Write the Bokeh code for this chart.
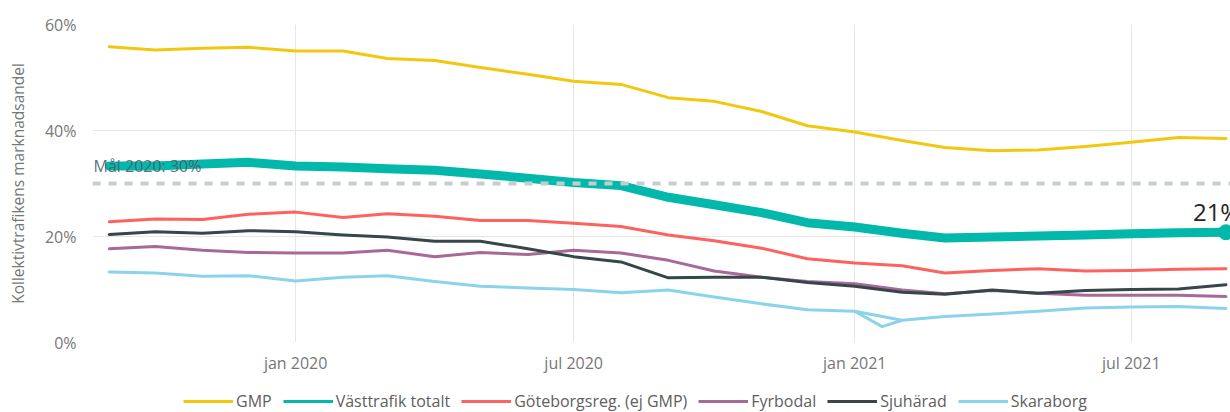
import numpy as np
from bokeh.plotting import figure
from bokeh.layouts import column
from bokeh.models import (FixedTicker, Span, Legend, LegendItem, Range1d,
                          PrintfTickFormatter)
from bokeh.embed import file_html
from bokeh.resources import INLINE
from bokeh.core.properties import value

# ---------------- data ----------------
months = ["2019-09", "2019-10", "2019-11", "2019-12",
          "2020-01", "2020-02", "2020-03", "2020-04", "2020-05", "2020-06",
          "2020-07", "2020-08", "2020-09", "2020-10", "2020-11", "2020-12",
          "2021-01", "2021-02", "2021-03", "2021-04", "2021-05", "2021-06",
          "2021-07", "2021-08", "2021-09"]

gmp = [55.8, 55.2, 55.5, 55.7, 55.0, 55.0, 53.6, 53.2, 51.9, 50.6, 49.3, 48.7,
       46.2, 45.5, 43.6, 40.9, 39.7, 38.1, 36.8, 36.2, 36.3, 37.0, 37.8, 38.7, 38.5]
vasttrafik = [33.3, 33.3, 33.7, 34.0, 33.3, 33.1, 32.8, 32.5, 31.8, 31.0, 30.2, 29.6,
              27.4, 26.0, 24.5, 22.6, 21.8, 20.6, 19.7, 19.9, 20.1, 20.3, 20.5, 20.7, 20.8]
goteborgsreg = [22.8, 23.3, 23.2, 24.2, 24.6, 23.6, 24.3, 23.8, 23.0, 23.0, 22.5, 21.9,
                20.3, 19.2, 17.8, 15.8, 15.0, 14.5, 13.1, 13.6, 13.9, 13.5, 13.6, 13.8, 13.9]
fyrbodal = [17.7, 18.1, 17.4, 17.0, 16.9, 16.9, 17.4, 16.2, 17.0, 16.6, 17.4, 16.9,
            15.5, 13.5, 12.3, 11.5, 11.1, 9.9, 9.2, 9.8, 9.3, 8.9, 8.9, 8.9, 8.7]
sjuharad = [20.4, 20.9, 20.6, 21.1, 20.9, 20.3, 19.9, 19.1, 19.1, 17.7, 16.2, 15.2,
            12.2, 12.3, 12.3, 11.3, 10.6, 9.5, 9.1, 9.9, 9.3, 9.8, 10.0, 10.1, 10.9]
skaraborg = [13.3, 13.1, 12.5, 12.6, 11.6, 12.3, 12.6, 11.5, 10.6, 10.3, 10.0, 9.4,
             9.9, 8.6, 7.3, 6.2, 5.9, 4.2, 4.9, 5.4, 5.9, 6.5, 6.7, 6.8, 6.4]
skaraborg_extra_dates = ["2021-01-01", "2021-01-19", "2021-02-01"]
skaraborg_extra = [5.9, 3.0, 4.2]

series_names = ["GMP", "Västtrafik totalt", "Göteborgsreg. (ej GMP)",
                "Fyrbodal", "Sjuhärad", "Skaraborg"]
series_colors = ["#F2C80F", "#01B8AA", "#FD625E", "#A66999", "#374649", "#8AD4EB"]

tick_dates = ["2020-01-01", "2020-07-01", "2021-01-01", "2021-07-01"]
tick_labels = ["jan 2020", "jul 2020", "jan 2021", "jul 2021"]
y_ticks = [0, 20, 40, 60]
goal = 30
goal_label = "Mål 2020: 30%"
y_title = "Kollektivtrafikens marknadsandel"
x_start_date = "2019-08-21"
x_end_date = "2021-09-04"


def ms(d):
    return int(np.datetime64(d, "ms").astype(np.int64))


xs = [ms(m + "-01") for m in months]
xticks = [ms(d) for d in tick_dates]
FONT = "Open Sans"

p = figure(width=1230, height=378, output_backend="svg", toolbar_location=None,
           x_range=Range1d(ms(x_start_date), ms(x_end_date)),
           y_range=Range1d(0, 60),
           min_border_left=92, min_border_right=0, min_border_top=24,
           min_border_bottom=36)
p.outline_line_color = None
p.background_fill_color = "white"
p.border_fill_color = "white"

# axes
p.xaxis.ticker = FixedTicker(ticks=xticks)
p.xaxis.major_label_overrides = {t: l for t, l in zip(xticks, tick_labels)}
p.yaxis.ticker = FixedTicker(ticks=y_ticks)
p.yaxis.formatter = PrintfTickFormatter(format="%d%%")
for ax in (p.xaxis[0], p.yaxis[0]):
    ax.axis_line_color = None
    ax.major_tick_line_color = None
    ax.minor_tick_line_color = None
    ax.major_tick_out = 0
    ax.major_tick_in = 0
    ax.major_label_text_font = FONT
    ax.major_label_text_font_size = "16px"
    ax.major_label_text_color = "#777777"
p.xaxis.major_label_standoff = 9
p.yaxis.major_label_standoff = 16
p.yaxis.axis_label = y_title
p.yaxis.axis_label_text_font = FONT
p.yaxis.axis_label_text_font_size = "15.5px"
p.yaxis.axis_label_text_font_style = "normal"
p.yaxis.axis_label_text_color = "#777777"
p.yaxis.axis_label_standoff = 13

p.xgrid.ticker = FixedTicker(ticks=xticks)
p.ygrid.ticker = FixedTicker(ticks=y_ticks)
p.xgrid.grid_line_color = "#E6E6E6"
p.ygrid.grid_line_color = "#E6E6E6"

# lines
all_series = [gmp, vasttrafik, goteborgsreg, fyrbodal, sjuharad, skaraborg]
widths = [3, 9, 3, 3, 3, 3]
for vals, col, w in zip(all_series, series_colors, widths):
    p.line(xs, vals, line_color=col, line_width=w, line_join="round", line_cap="round")
p.line([ms(d) for d in skaraborg_extra_dates], skaraborg_extra,
       line_color=series_colors[5], line_width=3, line_join="round")

# goal line
p.add_layout(Span(location=goal, dimension="width", line_color="#C5CDD0",
                  line_width=4, line_dash="8 8"))
p.text(x=[ms(x_start_date)], y=[goal], text=[goal_label], x_offset=1, y_offset=-18,
       text_baseline="middle", text_align="left", text_font=value(FONT),
       text_font_size="16px", text_color="#4E5B66", text_alpha=0.9)

# end marker + label
p.scatter([xs[-1]], [vasttrafik[-1]], size=15, color=series_colors[1])
p.text(x=[xs[-1]], y=[vasttrafik[-1]], text=[f"{round(vasttrafik[-1])}%"],
       x_offset=-33, y_offset=-21, text_baseline="middle", text_align="left",
       text_font=value(FONT), text_font_size="24px", text_color="#252423")

# legend strip (separate figure below the chart)
lg = figure(width=1230, height=34, output_backend="svg", toolbar_location=None,
            x_range=Range1d(0, 1), y_range=Range1d(0, 1),
            x_axis_location=None, y_axis_location=None,
            min_border_left=0, min_border_right=0, min_border_top=0,
            min_border_bottom=0)
lg.outline_line_color = None
lg.xgrid.visible = False
lg.ygrid.visible = False
items = []
for name, col in zip(series_names, series_colors):
    r = lg.line(x=[np.nan], y=[np.nan], line_color=col, line_width=3)
    items.append(LegendItem(label=name, renderers=[r]))
legend = Legend(items=items, orientation="horizontal", location=(91, 0),
                glyph_width=50, glyph_height=18, label_height=18,
                label_standoff=3, spacing=11, padding=0, margin=0,
                label_text_font=FONT, label_text_font_size="16px",
                label_text_color="#605E5C", border_line_color=None,
                background_fill_alpha=0)
lg.add_layout(legend, "center")

layout = column(p, lg, spacing=0)
open("out.html", "w").write(file_html(layout, INLINE))
